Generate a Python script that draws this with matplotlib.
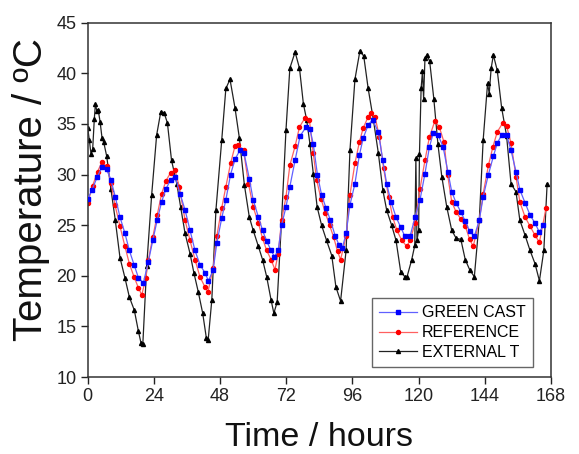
import matplotlib
matplotlib.use("Agg")
import matplotlib.pyplot as plt

plt.rcParams['font.family'] = ['Liberation Sans', 'DejaVu Sans']

# ---- data ----
green_t = [0, 1.6, 3.5, 5.1, 6.9, 8.4, 10.0, 11.7, 13.5, 15.1, 16.8, 18.4, 20.2, 22.0, 23.6,
           25.2, 26.8, 28.4, 30.1, 31.7, 33.5, 35.3, 37.1, 38.9, 40.7, 42.5, 43.8, 45.5, 46.8,
           48.6, 50.1, 51.8, 53.4, 55.2, 56.7, 58.6, 60.0, 61.9, 63.4, 64.9, 66.5, 67.7, 69.1,
           70.3, 71.9, 73.3, 75.2, 77.0, 79.2, 80.6, 81.8, 83.3, 84.8, 86.4, 88.0, 89.8, 91.2,
           92.3, 93.7, 95.1, 96.9, 98.5, 99.9, 101.7, 103.3, 105.4, 107.0, 108.4, 110.0, 111.8,
           113.5, 115.0, 116.9, 118.7, 120.5, 122.3, 123.9, 125.3, 127.1, 128.9, 130.6, 132.0,
           133.6, 135.3, 136.9, 138.5, 140.2, 142.0, 143.4, 145.3, 147.1, 148.5, 150.1, 151.9,
           153.5, 155.3, 156.7, 158.6, 160.4, 162.2, 163.8, 165.2]
green_v = [27.6, 28.5, 29.8, 30.7, 30.5, 29.5, 27.8, 25.8, 24.2, 22.5, 21.1, 19.8, 19.3, 21.4, 23.5,
           25.5, 27.3, 28.6, 29.5, 29.8, 28.1, 26.5, 24.5, 22.5, 21.1, 20.3, 19.5, 20.6, 23.2,
           25.7, 27.5, 30.0, 31.5, 32.4, 32.1, 29.6, 27.5, 25.8, 24.5, 23.4, 22.5, 21.9, 22.5,
           25.0, 26.8, 28.8, 31.4, 33.8, 34.7, 34.5, 33.0, 30.0, 28.0, 26.7, 25.5, 23.9, 23.0,
           22.7, 24.2, 27.0, 29.1, 31.9, 33.6, 34.9, 35.4, 34.2, 31.4, 29.1, 27.3, 25.8,
           24.8, 23.9, 23.9, 25.8, 27.5, 30.1, 32.7, 34.1, 33.9, 32.7, 30.3, 28.3,
           27.2, 26.3, 25.4, 24.4, 23.9, 25.5, 27.8, 30.0, 31.8, 33.1, 33.9, 33.9,
           32.4, 30.3, 28.5, 27.2, 26.0, 25.2, 24.3, 25.0]

ref_t = [0, 1.8, 3.6, 5.1, 6.9, 8.4, 9.9, 11.7, 13.5, 15.1, 16.8, 18.4, 19.6, 21.1, 22.0, 23.6,
         25.2, 26.8, 28.4, 30.1, 31.7, 33.2, 35.3, 37.1, 38.9, 40.7, 42.5, 43.6, 45.5, 46.8,
         48.6, 50.1, 51.8, 53.4, 54.6, 56.5, 58.3, 60.0, 61.9, 63.4, 64.9, 66.5, 67.9, 69.1,
         70.3, 71.9, 73.3, 75.2, 76.8, 78.8, 80.4, 81.8, 83.0, 84.6, 86.2, 87.7, 89.2, 90.6,
         91.7, 93.7, 95.1, 96.9, 98.5, 99.9, 101.7, 102.6, 104.2, 105.8, 107.3, 109.1, 110.6,
         112.1, 113.9, 115.7, 116.9, 118.7, 120.5, 122.3, 123.9, 125.9, 127.5, 129.2, 130.5,
         132.0, 133.6, 135.3, 136.9, 138.5, 139.8, 142.0, 143.4, 145.3, 146.9, 148.5, 150.5,
         151.9, 153.5, 155.3, 156.7, 158.6, 160.4, 162.2, 163.8, 166.2]
ref_v = [27.2, 28.9, 30.3, 31.2, 30.8, 29.2, 27.0, 24.9, 22.9, 21.2, 19.9, 18.8, 18.1, 19.8, 21.6, 23.8,
         26.0, 28.1, 29.4, 30.2, 30.4, 28.8, 25.5, 23.5, 21.6, 19.9, 18.9, 18.4, 20.8, 23.9,
         26.7, 28.8, 31.1, 32.8, 32.9, 32.4, 29.1, 26.8, 25.2, 23.7, 22.5, 21.6, 20.6, 22.2,
         25.5, 27.8, 30.9, 32.8, 34.7, 35.6, 35.4, 32.1, 29.5, 27.6, 26.2, 25.0, 23.8, 22.4,
         21.6, 23.9, 28.0, 31.1, 33.2, 34.6, 35.7, 36.1, 35.7, 33.7, 30.6, 27.8, 25.8,
         24.5, 23.5, 22.9, 23.5, 25.2, 28.6, 31.4, 33.7, 35.3, 34.7, 33.2, 30.0,
         27.3, 26.3, 25.6, 24.9, 23.6, 22.9, 25.5, 28.1, 30.9, 32.7, 34.2, 35.1,
         34.8, 33.1, 29.8, 27.3, 25.8, 24.9, 24.0, 23.3, 26.7]

ext_t = [0, 0.6, 1.2, 1.8, 2.4, 2.8, 3.3, 3.8, 4.5, 5.2, 5.8, 6.9, 8.4, 10.0, 11.7, 13.5, 15.1,
         16.9, 18.4, 19.3, 20.0, 21.4, 23.2, 25.0, 26.5, 27.7, 28.9, 30.4, 32.3, 33.7, 35.3,
         37.1, 38.5, 40.1, 41.7, 43.0, 43.7, 45.0, 46.5, 48.6, 50.1, 51.6, 53.4, 55.0, 56.8,
         58.6, 60.0, 61.9, 63.4, 64.9, 66.5, 67.5, 68.7, 70.3, 71.9, 73.3, 75.2, 76.8, 78.2,
         79.4, 80.6, 81.8, 83.2, 84.8, 86.6, 88.5, 90.0, 91.7, 93.7, 95.1, 96.9, 98.7, 100.1,
         101.7, 103.6, 105.4, 107.0, 108.4, 110.2, 111.8, 113.5, 115.0, 115.8, 117.5, 118.6,
         119.0, 119.4, 120.0, 120.3, 120.9, 121.4, 121.8, 122.3, 123.0, 124.0, 125.5, 127.0,
         128.4, 130.2, 132.0, 133.6, 135.3, 136.9, 138.5, 140.2, 142.0, 143.4, 145.0, 145.6,
         146.3, 147.1, 148.5, 150.1, 151.9, 153.5, 155.3, 156.7, 158.6, 160.4, 162.2, 163.8,
         165.4, 166.6]
ext_v = [34.6, 33.4, 32.0, 32.5, 35.5, 37.0, 36.3, 36.4, 35.2, 33.6, 33.2, 31.8, 28.6, 25.5, 21.8, 19.8, 17.9,
         16.6, 14.5, 13.4, 13.3, 21.0, 28.0, 33.9, 36.2, 36.1, 35.1, 31.4, 29.1, 26.8, 24.2,
         22.2, 20.3, 18.4, 16.3, 13.9, 13.7, 17.6, 26.5, 33.4, 38.5, 39.4, 36.6, 33.6, 29.0,
         25.8, 24.5, 22.9, 21.6, 19.9, 17.6, 16.3, 17.4, 25.5, 34.4, 40.5, 42.1, 40.5, 37.0,
         35.4, 33.0, 30.1, 26.8, 25.0, 23.5, 22.0, 18.9, 17.5, 22.5, 32.4, 39.4, 42.2, 41.7,
         38.5, 35.4, 32.1, 28.5, 26.5, 25.0, 23.5, 20.4, 19.9, 19.9, 21.6, 23.0,
         31.6, 23.5, 24.5, 32.0, 38.5, 40.2, 37.5, 41.5, 41.8, 41.2, 37.5, 33.0,
         29.8, 26.8, 24.5, 23.7, 23.6, 21.6, 20.6, 19.9, 25.5, 33.4, 39.0, 38.0,
         40.5, 41.8, 40.3, 36.6, 33.8, 29.1, 28.3, 25.5, 24.0, 22.5, 21.2, 19.5,
         22.5, 29.1]

series_labels = ["GREEN CAST", "REFERENCE", "EXTERNAL T"]
x_ticks = [0, 24, 48, 72, 96, 120, 144, 168]
y_ticks = [10, 15, 20, 25, 30, 35, 40, 45]

# ---- figure ----
fig = plt.figure(figsize=(5.79, 4.54), dpi=100)
ax = fig.add_axes([87.7 / 579, 1 - 377 / 454, (551 - 87.7) / 579, (377 - 22.7) / 454])

ax.plot(green_t, green_v, color='#6060ff', lw=0.9, marker='s', ms=2.6,
        mfc='#0000ff', mec='#0000ff', label=series_labels[0], zorder=3)
ax.plot(ref_t, ref_v, color='#ff6060', lw=0.9, marker='o', ms=2.9,
        mfc='#ff0000', mec='#ff0000', label=series_labels[1], zorder=2)
ax.plot(ext_t, ext_v, color='#222222', lw=0.9, marker='^', ms=2.9,
        mfc='#000000', mec='#000000', label=series_labels[2], zorder=1)

ax.set_xlim(0, 168)
ax.set_ylim(10, 45)
ax.set_xticks(x_ticks)
ax.set_yticks(y_ticks)
ax.tick_params(direction='out', length=5, width=1.0, labelsize=13,
               colors='#222222', pad=3)
for s in ax.spines.values():
    s.set_linewidth(1.1)
    s.set_color('#333333')

ax.set_xlabel("Time / hours", fontsize=24.5, color='#111111')
ax.set_ylabel("Temperature / ºC", fontsize=29, color='#111111')
ax.xaxis.set_label_coords(0.5, -0.172)
ax.xaxis.label.set_va('center')
ax.yaxis.set_label_coords(-0.122, 0.53)
ax.yaxis.label.set_va('center')

leg = ax.legend(loc='lower right', bbox_to_anchor=(0.961, 0.028), borderaxespad=0,
                fontsize=11.5, frameon=True, fancybox=False, handlelength=2.4,
                handletextpad=0.3, labelspacing=0.3, borderpad=0.45,
                edgecolor='#666666', framealpha=1)
leg.get_frame().set_linewidth(1.0)

fig.savefig("out.png", dpi=100)
